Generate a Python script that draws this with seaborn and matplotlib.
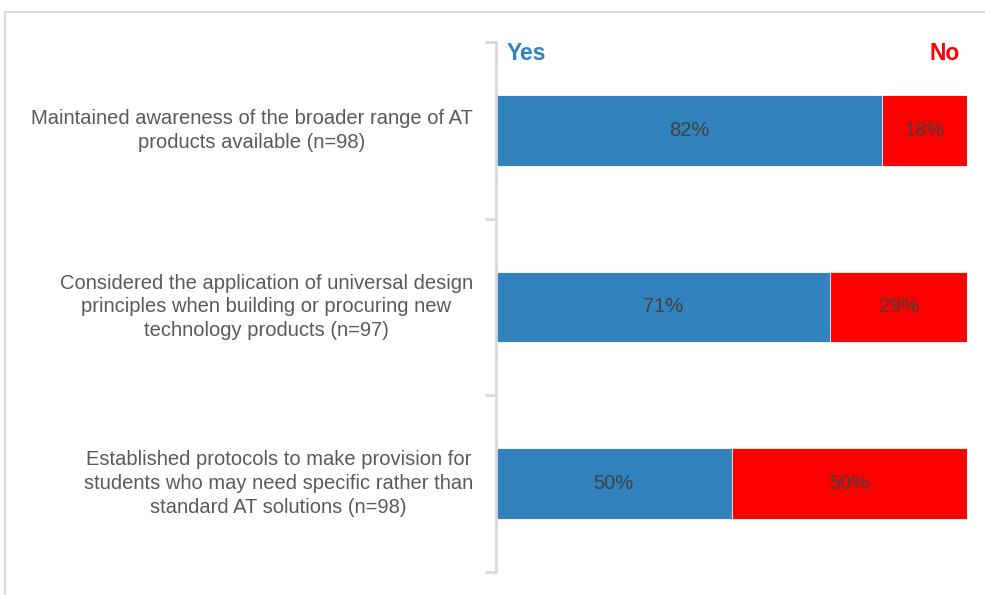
import matplotlib
matplotlib.use("Agg")
import matplotlib.pyplot as plt
import matplotlib.patches as mpatches
import seaborn as sns
import pandas as pd

categories = [
    "Maintained awareness of the broader range of AT\nproducts available (n=98)",
    "Considered the application of universal design\nprinciples when building or procuring new\ntechnology products (n=97)",
    "Established protocols to make provision for\nstudents who may need specific rather than\nstandard AT solutions (n=98)",
]
yes_pct = [82, 71, 50]
no_pct = [18, 29, 50]

BLUE = "#3282BE"
RED = "#FF0000"
GRID = "#D9D9D9"

sns.set_theme(style="white")
plt.rcParams["font.family"] = ["Liberation Sans", "DejaVu Sans"]

df = pd.DataFrame({"cat": categories, "yes": yes_pct, "no": no_pct})
df["total"] = df["yes"] + df["no"]

fig = plt.figure(figsize=(9.85, 5.95), dpi=100)
ax = fig.add_axes([496 / 985, 1 - 572 / 595, (967 - 496) / 985, (572 - 42) / 595])

# stacked bars: full length in red, Yes share drawn over it in blue
sns.barplot(data=df, x="total", y="cat", color=RED, width=0.4, ax=ax,
            edgecolor="white", linewidth=0.6, saturation=1)
sns.barplot(data=df, x="yes", y="cat", color=BLUE, width=0.4, ax=ax,
            edgecolor="white", linewidth=0.6, saturation=1)

ax.set_xlim(0, 100)
ax.set_ylim(len(categories) - 0.5, -0.5)
ax.set_xlabel("")
ax.set_ylabel("")
ax.set_xticks([])

for s in ["top", "right", "bottom"]:
    ax.spines[s].set_visible(False)
ax.spines["left"].set_color(GRID)
ax.spines["left"].set_linewidth(2)

# category labels as centred text blocks, right edge near the axis
ax.set_yticks([])
for i, lab in enumerate(categories):
    ax.text(-23 / 471, i, lab, transform=ax.get_yaxis_transform(), ha="right", va="center",
            multialignment="center", fontsize=14.5, color="#595959", linespacing=1.33)

# boundary ticks between categories
ax.set_yticks([i - 0.5 for i in range(len(categories) + 1)], minor=True)
ax.tick_params(axis="y", which="minor", length=8, width=2, color=GRID, left=True)

for i, (y, n) in enumerate(zip(yes_pct, no_pct)):
    ax.text(y / 2, i, f"{y}%", ha="center", va="center", fontsize=14.5, color="#404040")
    ax.text(y + n / 2, i, f"{n}%", ha="center", va="center", fontsize=14.5, color="#404040")

ax.text(11 / 471, 1.0, "Yes", transform=ax.transAxes, ha="left", va="top",
        fontsize=16.5, fontweight="bold", color=BLUE)
ax.text(1 - 7 / 471, 1.0, "No", transform=ax.transAxes, ha="right", va="top",
        fontsize=16.5, fontweight="bold", color=RED)

# outer frame, open at the right and bottom edges
frame = mpatches.Rectangle((5 / 985, -0.1), 1.2, 1 - 12 / 595 + 0.1, transform=fig.transFigure,
                           fill=False, edgecolor=GRID, linewidth=1.5, clip_on=False)
fig.patches.append(frame)

fig.savefig("out.png", dpi=100)
